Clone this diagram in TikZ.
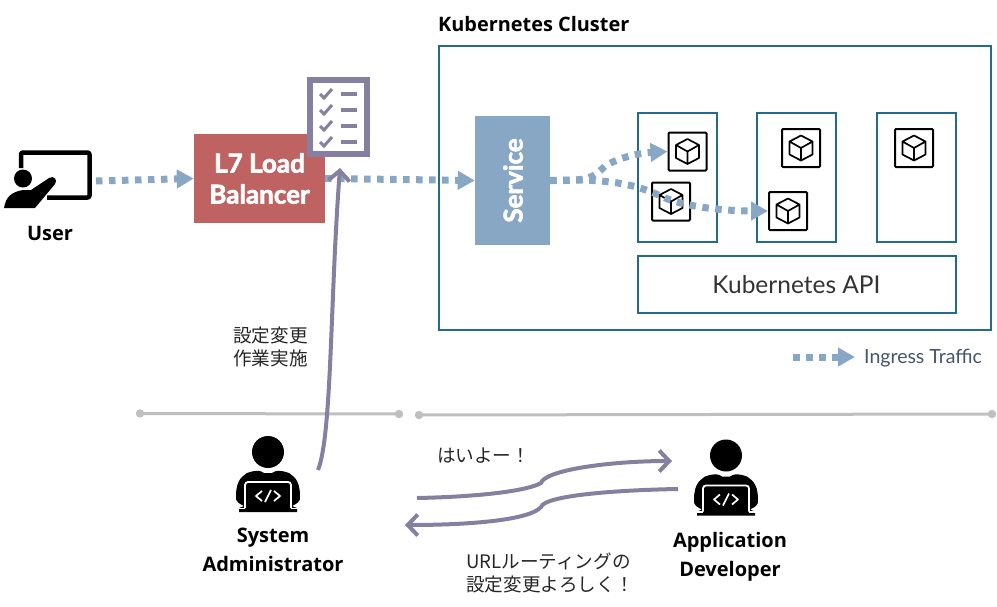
\documentclass[tikz,border=0pt]{standalone}
\usepackage{fontspec}
\setmainfont{Open Sans}
\newfontfamily\latofont{Lato}
\newfontfamily\latoheavy{Lato}[FakeBold=2.4]
\newfontfamily\cjkfont{Noto Sans CJK JP}
\usetikzlibrary{arrows.meta}
\definecolor{flow}{HTML}{88A7C4}
\definecolor{adm}{HTML}{8580A0}
\definecolor{teal}{HTML}{236B8E}
\definecolor{lbred}{HTML}{BF6262}
\definecolor{sep}{HTML}{BFBFBF}
\definecolor{legtext}{HTML}{44546A}
\tikzset{
  x=1pt,y=-1pt,
  box/.style={draw=teal,line width=2pt,fill=none,inner sep=0pt,anchor=north west},
  podbox/.style={draw=black,line width=2pt,fill=white,rounded corners=1pt,minimum size=38pt,inner sep=0pt},
  traffic/.style={draw=flow,line width=7pt,dash pattern=on 6.5pt off 6.5pt,-{Triangle[length=17pt,width=18pt,fill=flow]}},
  adminarrow/.style={draw=adm,line width=4pt,-{Straight Barb[length=10pt,width=21pt,line width=4pt]}},
  actor/.style={font=\bfseries\fontsize{20}{29}\selectfont,text=black,align=center,inner sep=0pt},
  jp/.style={font=\cjkfont\fontsize{18.6}{23}\selectfont,align=left,inner sep=0pt,text=black!85},
  pics/cube/.style={code={
    \draw[line width=1.7pt,line join=round,black]
      (0,-12.5)--(11.5,-6.5)--(11.5,6.5)--(0,12.5)--(-11.5,6.5)--(-11.5,-6.5)--cycle
      (-11.5,-6.5)--(0,0)--(11.5,-6.5) (0,0)--(0,12.5);
  }},
  pics/coder/.style={code={
    \fill[black] (0,-18) circle (16);
    \fill[black] (-21,3) .. controls (-24,6) and (-32,8) .. (-32,26)
       .. controls (-33,32) and (-28,34) .. (-24,36) -- (-29,38) -- (-29,42) -- (29,42) -- (29,38) -- (24,36)
       .. controls (28,34) and (33,32) .. (32,26) .. controls (32,8) and (24,6) .. (21,3)
       .. controls (12,0) and (8,0) .. (4,3) -- (-4,3) .. controls (-8,0) and (-12,0) .. (-21,3) -- cycle;
    \draw[white,line width=1.8pt,rounded corners=3pt] (-23,38) -- (-23,12) -- (23,12) -- (23,38);
    \draw[white,line width=1.7pt,line join=round] (-6,21)--(-12,26)--(-6,31) (6,21)--(12,26)--(6,31) (3,20)--(-3,32);
    \draw[white,line width=1.2pt] (-31,38.5) -- (-23,38.5) (23,38.5)--(31,38.5);
  }},
}
\begin{document}
\begin{tikzpicture}
\useasboundingbox (0,0) rectangle (997,606);
% cluster
\node[anchor=west,inner sep=0pt,font=\bfseries\fontsize{19.9}{22}\selectfont] (clustertitle) at (438,24) {Kubernetes Cluster};
\draw[box] (439,46) rectangle (991,330);
\draw[box] (638,113) rectangle (717,242);
\draw[box] (757,113) rectangle (836,242);
\draw[box] (877,113) rectangle (956,242);
\draw[box] (638,256) rectangle (956,313);
\node[font=\latofont\fontsize{24.5}{27}\selectfont,text=black!80,inner sep=0pt] (api) at (796.5,285) {Kubernetes API};
% pods
\node[podbox] (pod1) at (687.5,151.5) {}; \pic at (pod1) {cube};
\node[podbox] (pod2) at (671,201.5) {}; \pic at (pod2) {cube};
\node[podbox] (pod3) at (801,148) {}; \pic at (pod3) {cube};
\node[podbox] (pod4) at (788,211) {}; \pic at (pod4) {cube};
\node[podbox] (pod5) at (914,148) {}; \pic at (pod5) {cube};
% user icon
\coordinate (usericon) at (96,181);
\draw[black,line width=4.5pt,line join=round,rounded corners=2pt] (21,168) -- (21,152.5) -- (89.5,152.5) -- (89.5,197.5) -- (47,197.5);
\fill[black] (23,178.5) circle (9);
\fill[black] (4,208) .. controls (6,196) and (12,192) .. (23,190) -- (31,190) -- (49,178) .. controls (54,175) and (58,180) .. (55,184) -- (35,208) -- cycle;
\node[actor] (user) at (50,233) {User};
% load balancer
\node[fill=lbred,minimum width=131pt,minimum height=89pt,inner sep=0pt,text=white,align=center,font=\latoheavy\bfseries\fontsize{26}{31}\selectfont] (lb) at (259.5,178.5) {L7 Load\\Balancer};
% checklist
\node[draw=adm,fill=white,line width=6pt,minimum width=57pt,minimum height=74pt,inner sep=0pt] (list) at (338.5,117) {};
\foreach \yy in {94,110,126,142}{
  \draw[adm,line width=3pt] (320,\yy) -- (324,\yy+4) -- (332,\yy-5);
  \draw[adm,line width=3.5pt] (341,\yy) -- (357,\yy);
}
% service
\node[fill=flow,minimum width=75pt,minimum height=129pt,inner sep=0pt] (svc) at (512.5,180.5) {};
\node[rotate=90,text=white,font=\latoheavy\bfseries\fontsize{26}{28}\selectfont,inner sep=0pt] (svclabel) at (513,180.5) {Service};
% traffic
\draw[traffic] (usericon) -- (lb.west);
\draw[traffic] (lb.east) -- (svc.west);
\draw[traffic] (svc.east) .. controls (590,181) and (593,178) .. (605,166) .. controls (620,157) and (640,153) .. (pod1.west);
\draw[traffic] (svc.east) .. controls (615,178) and (640,186) .. (665,198) .. controls (690,208) and (730,211) .. (pod4.west);
% legend
\coordinate (legstart) at (793,357);
\node[anchor=west,inner sep=0pt,font=\latofont\fontsize{19.5}{20}\selectfont,text=legtext] (legend) at (864,358) {Ingress Traffic};
\coordinate (legend-tip) at (855,357);
\draw[traffic] (legstart) -- (legend-tip);
% separators
\coordinate (s1) at (140,413.5); \coordinate (s2) at (399,414);
\coordinate (s3) at (419,415); \coordinate (s4) at (992,414);
\draw[sep,line width=3pt] (s1) -- (s2);
\draw[sep,line width=3pt] (s3) -- (s4);
\foreach \c in {s1,s2,s3,s4}{\fill[sep] (\c) circle (4.2);}
% people
\pic at (268,470) {coder};
\pic at (726,473.5) {coder};
\node[actor] (admin) at (273,550) {System\\Administrator};
\node[actor] (dev) at (730,557) {Application\\Developer};
% admin arrows
\coordinate (admstart) at (318,470);
\coordinate (listin) at (340,168);
\draw[adminarrow] (admstart) .. controls (332,435) and (330,300) .. (listin);
\coordinate (a1) at (417,498); \coordinate (a2) at (672,461);
\coordinate (b1) at (678,489); \coordinate (b2) at (405,525);
\draw[adminarrow] (a1) .. controls (470,497) and (525,492) .. (541,483) .. controls (545,470) and (610,461) .. (a2);
\draw[adminarrow] (b1) .. controls (620,490) and (545,495) .. (541,507) .. controls (530,520) and (470,525) .. (b2);
% labels
\node[jp,anchor=west] (lab1) at (233,347) {設定変更\\作業実施};
\node[jp,anchor=west] (lab2) at (437,456) {はいよー！};
\node[jp,anchor=west] (lab3) at (466,572.5) {URLルーティングの\\設定変更よろしく！};
\end{tikzpicture}
\end{document}
